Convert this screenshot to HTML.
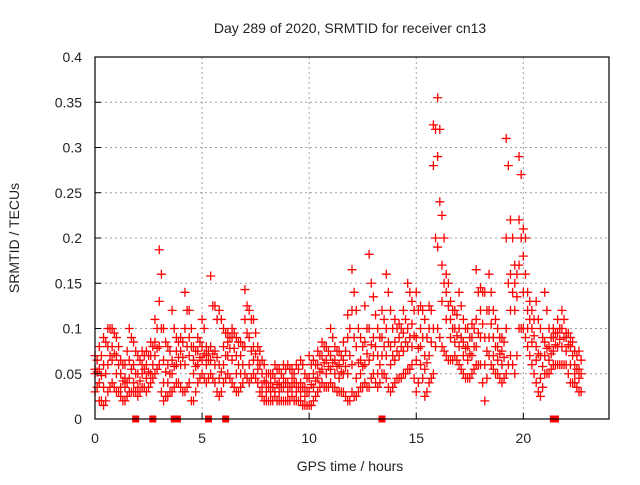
<!DOCTYPE html>
<html><head><meta charset="utf-8"><style>
body{margin:0;background:#fff;}
svg text{font-family:"Liberation Sans",sans-serif;fill:#222;}
</style></head><body>
<svg id="chart" width="640" height="480" viewBox="0 0 640 480" xmlns="http://www.w3.org/2000/svg">
<rect width="640" height="480" fill="#fff"/>
<text x="350" y="33" font-size="14" text-anchor="middle">Day 289 of 2020, SRMTID for receiver cn13</text>
<text x="19" y="238" font-size="14" text-anchor="middle" transform="rotate(-90 19 238)">SRMTID / TECUs</text>
<text x="350" y="471" font-size="14" text-anchor="middle">GPS time / hours</text>
<g id="grid"></g><g id="marks"></g><g id="axes"></g>
</svg>
<script>
const times=[0,0.2,0.4,0.6,0.8,1,1.2,1.4,1.6,1.8,2,2.2,2.4,2.6,2.8,3,3.2,3.4,3.6,3.8,4,4.2,4.4,4.6,4.8,5,5.2,5.4,5.6,5.8,6,6.2,6.4,6.6,6.8,7,7.2,7.4,7.6,7.8,8,8.2,8.4,8.6,8.8,9,9.2,9.4,9.6,9.8,10,10.2,10.4,10.6,10.8,11,11.2,11.4,11.6,11.8,12,12.2,12.4,12.6,12.8,13,13.2,13.4,13.6,13.8,14,14.2,14.4,14.6,14.8,15,15.2,15.4,15.6,15.8,16,16.2,16.4,16.6,16.8,17,17.2,17.4,17.6,17.8,18,18.2,18.4,18.6,18.8,19,19.2,19.4,19.6,19.8,20,20.2,20.4,20.6,20.8,21,21.2,21.4,21.6,21.8,22,22.2,22.4,22.6];
const seriesLow=[.03,.02,.015,.03,.04,.03,.025,.02,.03,.03,.025,.035,.03,.04,.05,.06,.02,.025,.03,.04,.035,.03,.04,.02,.04,.05,.04,.05,.04,.025,.04,.05,.04,.03,.035,.05,.04,.05,.04,.025,.02,.02,.025,.02,.02,.02,.025,.02,.02,.015,.015,.02,.03,.04,.035,.04,.035,.03,.03,.02,.03,.025,.035,.04,.035,.05,.035,.05,.045,.03,.04,.045,.05,.055,.06,.03,.06,.025,.04,.05,.10,.08,.07,.065,.07,.06,.05,.045,.05,.06,.06,.02,.07,.055,.05,.04,.05,.07,.05,.10,.10,.08,.06,.04,.025,.05,.05,.06,.06,.06,.06,.04,.04,.03];
const seriesMidLow=[.05,.04,.035,.06,.065,.05,.035,.035,.045,.04,.035,.05,.045,.05,.07,.08,.04,.04,.05,.06,.06,.06,.07,.05,.06,.065,.06,.065,.06,.045,.06,.07,.065,.05,.05,.08,.06,.065,.055,.035,.03,.03,.03,.03,.035,.03,.035,.03,.03,.025,.03,.035,.045,.055,.05,.055,.05,.045,.05,.05,.06,.045,.05,.06,.065,.07,.05,.07,.07,.06,.065,.07,.075,.08,.08,.065,.08,.055,.07,.10,.19,.13,.11,.09,.085,.08,.07,.065,.07,.08,.09,.06,.09,.07,.065,.06,.10,.12,.12,.17,.14,.10,.085,.065,.045,.07,.065,.075,.08,.08,.075,.06,.05,.045];
const seriesMidHigh=[.055,.055,.06,.08,.08,.07,.05,.045,.065,.06,.05,.06,.06,.07,.085,.13,.065,.06,.065,.075,.075,.10,.09,.065,.075,.08,.07,.08,.075,.06,.08,.085,.09,.07,.07,.11,.09,.08,.065,.05,.04,.04,.045,.04,.045,.04,.045,.04,.04,.035,.045,.05,.06,.07,.065,.07,.065,.06,.065,.09,.12,.08,.065,.085,.10,.09,.07,.09,.10,.08,.085,.09,.095,.10,.105,.09,.10,.07,.10,.28,.29,.17,.14,.11,.10,.10,.085,.08,.09,.11,.12,.09,.12,.09,.08,.075,.20,.16,.15,.22,.18,.12,.10,.08,.07,.085,.08,.09,.095,.10,.09,.08,.06,.055];
const seriesHigh=[.07,.08,.09,.10,.10,.09,.065,.06,.10,.085,.07,.075,.075,.085,.11,.187,.10,.08,.12,.09,.09,.14,.12,.08,.09,.11,.08,.158,.125,.12,.10,.095,.10,.09,.085,.143,.12,.11,.08,.065,.05,.05,.06,.055,.06,.06,.055,.06,.065,.05,.07,.065,.075,.085,.08,.10,.08,.075,.085,.115,.165,.12,.09,.125,.182,.135,.10,.12,.16,.12,.11,.105,.12,.15,.13,.14,.125,.11,.125,.325,.355,.225,.16,.13,.12,.14,.11,.10,.105,.165,.145,.14,.16,.12,.10,.09,.31,.22,.17,.29,.21,.14,.12,.13,.10,.14,.10,.10,.11,.12,.095,.09,.075,.075];
const timesB=[0.1,0.3,0.5,0.7,0.9,1.1,1.3,1.5,1.7,1.9,2.1,2.3,2.5,2.7,2.9,3.1,3.3,3.5,3.7,3.9,4.1,4.3,4.5,4.7,4.9,5.1,5.3,5.5,5.7,5.9,6.1,6.3,6.5,6.7,6.9,7.1,7.3,7.5,7.7,7.9,8.1,8.3,8.5,8.7,8.9,9.1,9.3,9.5,9.7,9.9,10.1,10.3,10.5,10.7,10.9,11.1,11.3,11.5,11.7,11.9,12.1,12.3,12.5,12.7,12.9,13.1,13.3,13.5,13.7,13.9,14.1,14.3,14.5,14.7,14.9,15.1,15.3,15.5,15.7,15.9,16.1,16.3,16.5,16.7,16.9,17.1,17.3,17.5,17.7,17.9,18.1,18.3,18.5,18.7,18.9,19.1,19.3,19.5,19.7,19.9,20.1,20.3,20.5,20.7,20.9,21.1,21.3,21.5,21.7,21.9,22.1,22.3,22.5,22.7];
const seriesLowB=[.035,.02,.02,.035,.035,.03,.02,.025,.03,.03,.03,.035,.035,.045,.055,.03,.025,.03,.035,.04,.03,.035,.02,.03,.045,.045,.045,.045,.03,.03,.045,.045,.035,.03,.04,.045,.045,.045,.03,.02,.02,.02,.02,.02,.02,.02,.02,.02,.015,.015,.015,.025,.035,.035,.035,.035,.03,.03,.025,.02,.025,.03,.035,.035,.045,.04,.04,.05,.035,.035,.045,.045,.05,.055,.045,.04,.045,.03,.045,.08,.09,.075,.065,.065,.065,.055,.045,.045,.055,.06,.04,.045,.06,.05,.045,.045,.06,.06,.07,.10,.09,.07,.05,.03,.035,.05,.055,.06,.06,.06,.05,.04,.035,.03];
const seriesMidB=[.052,.048,.05,.07,.072,.06,.042,.04,.055,.05,.042,.055,.052,.06,.078,.1,.052,.05,.058,.068,.068,.08,.08,.058,.068,.072,.065,.072,.068,.052,.07,.078,.078,.06,.06,.095,.075,.072,.06,.042,.035,.035,.038,.035,.04,.035,.04,.035,.035,.03,.038,.042,.052,.062,.058,.062,.058,.052,.058,.07,.09,.062,.058,.072,.082,.08,.06,.08,.085,.07,.075,.08,.085,.09,.092,.078,.09,.062,.085,.2,.24,.15,.125,.1,.092,.09,.078,.072,.08,.095,.105,.075,.105,.08,.072,.068,.15,.14,.135,.2,.16,.11,.092,.072,.058,.078,.072,.082,.088,.09,.082,.07,.055,.05];
const seriesHighB=[.065,.07,.085,.10,.095,.08,.06,.075,.09,.075,.065,.07,.07,.08,.10,.16,.085,.075,.10,.085,.085,.12,.10,.075,.085,.10,.075,.125,.11,.11,.095,.09,.095,.085,.08,.125,.11,.095,.075,.06,.05,.05,.055,.05,.055,.055,.05,.055,.06,.045,.06,.06,.07,.08,.075,.09,.075,.07,.075,.10,.14,.10,.08,.10,.15,.115,.09,.11,.14,.10,.10,.10,.11,.14,.12,.12,.12,.09,.12,.32,.32,.20,.15,.12,.115,.125,.10,.09,.10,.14,.14,.12,.14,.11,.09,.085,.28,.20,.16,.27,.20,.13,.11,.11,.09,.12,.09,.095,.10,.11,.095,.085,.07,.065];
const gapTimes=[1.9,2.7,3.7,3.85,5.3,6.1,13.4,21.4,21.5];
const xTicks=[0,5,10,15,20];
const yTicks=[0,0.05,0.1,0.15,0.2,0.25,0.3,0.35,0.4];
const yTickLabels=["0","0.05","0.1","0.15","0.2","0.25","0.3","0.35","0.4"];

const X0=95,X1=609,Y0=419,Y1=57,XMAX=24,YMAX=0.4;
const xs=t=>X0+(X1-X0)*t/XMAX;
const ys=v=>Y0-(Y0-Y1)*v/YMAX;
const NS="http://www.w3.org/2000/svg";
function mk(tag,attrs,parent){const e=document.createElementNS(NS,tag);for(const k in attrs)e.setAttribute(k,attrs[k]);parent.appendChild(e);return e;}
const grid=document.getElementById('grid'),marks=document.getElementById('marks'),axes=document.getElementById('axes');

yTicks.forEach((v,i)=>{
  const y=ys(v);
  if(v>0&&v<YMAX){const g=mk('line',{x1:X0,x2:X1,y1:y,y2:y,stroke:'#a0a0a0','stroke-dasharray':'2,3','stroke-width':1},grid);
  
  }
  const t=mk('line',{x1:X0,x2:X0+6,y1:y,y2:y,stroke:'#000'},axes);
  
  
  const l=mk('text',{x:X0-13,y:y+5,'font-size':14,'text-anchor':'end'},axes);l.textContent=yTickLabels[i];
  
  
});
xTicks.forEach(t=>{
  const x=xs(t);
  if(t>0){const g=mk('line',{x1:x,x2:x,y1:Y0,y2:Y1,stroke:'#a0a0a0','stroke-dasharray':'2,3','stroke-width':1},grid);
  
  }
  const k=mk('line',{x1:x,x2:x,y1:Y0,y2:Y0-6,stroke:'#000'},axes);
  
  
  const l=mk('text',{x:x,y:443,'font-size':14,'text-anchor':'middle'},axes);l.textContent=String(t);
  
  
});
const frame=mk('rect',{x:X0,y:Y1,width:X1-X0,height:Y0-Y1,fill:'none',stroke:'#000','stroke-width':1.2},axes);



function plus(t,v,color){
  const x=xs(t),y=ys(v);
  const p=mk('path',{d:`M${x-4.5},${y}h9M${x},${y-4.5}v9`,stroke:color,'stroke-width':1.3,fill:'none'},marks);
  
  
}
[seriesLow,seriesMidLow,seriesMidHigh,seriesHigh].forEach(arr=>{
  times.forEach((t,i)=>{if(arr[i]!==undefined)plus(t,arr[i],'#ff0000');});
});
[seriesLowB,seriesMidB,seriesHighB].forEach(arr=>{
  timesB.forEach((t,i)=>{if(arr[i]!==undefined)plus(t,arr[i],'#ff0000');});
});
gapTimes.forEach(t=>{
  const r=mk('rect',{x:xs(t)-3.5,y:Y0-3.5,width:7,height:7,fill:'#ff0000'},marks);
  
  
});
</script>
</body></html>
